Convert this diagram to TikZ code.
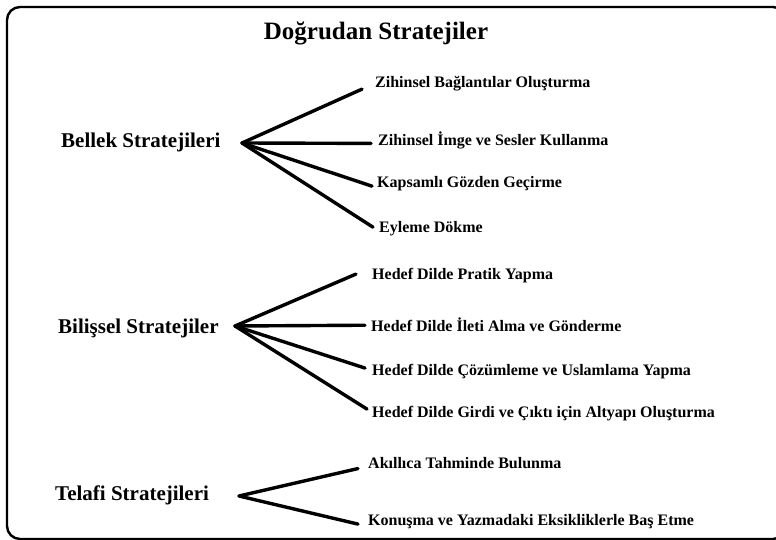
\documentclass[tikz,border=0pt]{standalone}
\usepackage{fontspec}
\setmainfont{Liberation Serif}
\usetikzlibrary{calc}
\begin{document}
\begin{tikzpicture}[x=1pt,y=-1pt,
  frame/.style={line width=2.4pt,rounded corners=13pt},
  title/.style={font=\fontsize{25}{28}\selectfont\bfseries,anchor=base,inner sep=0pt},
  group/.style={font=\fontsize{21}{24}\selectfont\bfseries,anchor=base west,inner sep=0pt},
  leaf/.style={font=\fontsize{16}{19}\selectfont\bfseries,anchor=base west,inner sep=0pt},
  conn/.style={line width=3.4pt,line cap=round}]
\useasboundingbox (0,0) rectangle (776,540);
\draw[frame] (7,7) rectangle (786,539);
\node[title] (t) at (376,40) {Doğrudan Stratejiler};

% Bellek
\node[group] (b) at (61,148) {Bellek Stratejileri};
\coordinate (bo) at (242,143);
\node[leaf] (b1) at (375,88) {Zihinsel Bağlantılar Oluşturma};
\node[leaf] (b2) at (378,146) {Zihinsel İmge ve Sesler Kullanma};
\node[leaf] (b3) at (377,188) {Kapsamlı Gözden Geçirme};
\node[leaf] (b4) at (379,232) {Eyleme Dökme};
\draw[conn] (bo) -- ($(b1.west)+(-13,5)$);
\draw[conn] (bo) -- ($(b2.west)+(-7,2.5)$);
\draw[conn] (bo) -- ($(b3.west)+(-5,2)$);
\draw[conn] (bo) -- ($(b4.west)+(-6,-1)$);

% Bilissel
\node[group] (c) at (58,333) {Bilişsel Stratejiler};
\coordinate (co) at (235,326);
\node[leaf] (c1) at (372,279) {Hedef Dilde Pratik Yapma};
\node[leaf] (c2) at (371,331) {Hedef Dilde İleti Alma ve Gönderme};
\node[leaf] (c3) at (372,375) {Hedef Dilde Çözümleme ve Uslamlama Yapma};
\node[leaf] (c4) at (372,417) {Hedef Dilde Girdi ve Çıktı için Altyapı Oluşturma};
\draw[conn] (co) -- ($(c1.west)+(-16,-1)$);
\draw[conn] (co) -- ($(c2.west)+(-6,1)$);
\draw[conn] (co) -- ($(c3.west)+(-7,-3)$);
\draw[conn] (co) -- ($(c4.west)+(-5,-4)$);

% Telafi
\node[group] (d) at (55,500) {Telafi Stratejileri};
\coordinate (do) at (239,496);
\node[leaf] (d1) at (368,468) {Akıllıca Tahminde Bulunma};
\node[leaf] (d2) at (368,525) {Konuşma ve Yazmadaki Eksikliklerle Baş Etme};
\draw[conn] (do) -- ($(d1.west)+(-10,6)$);
\draw[conn] (do) -- ($(d2.west)+(-10,3)$);
\end{tikzpicture}
\end{document}
